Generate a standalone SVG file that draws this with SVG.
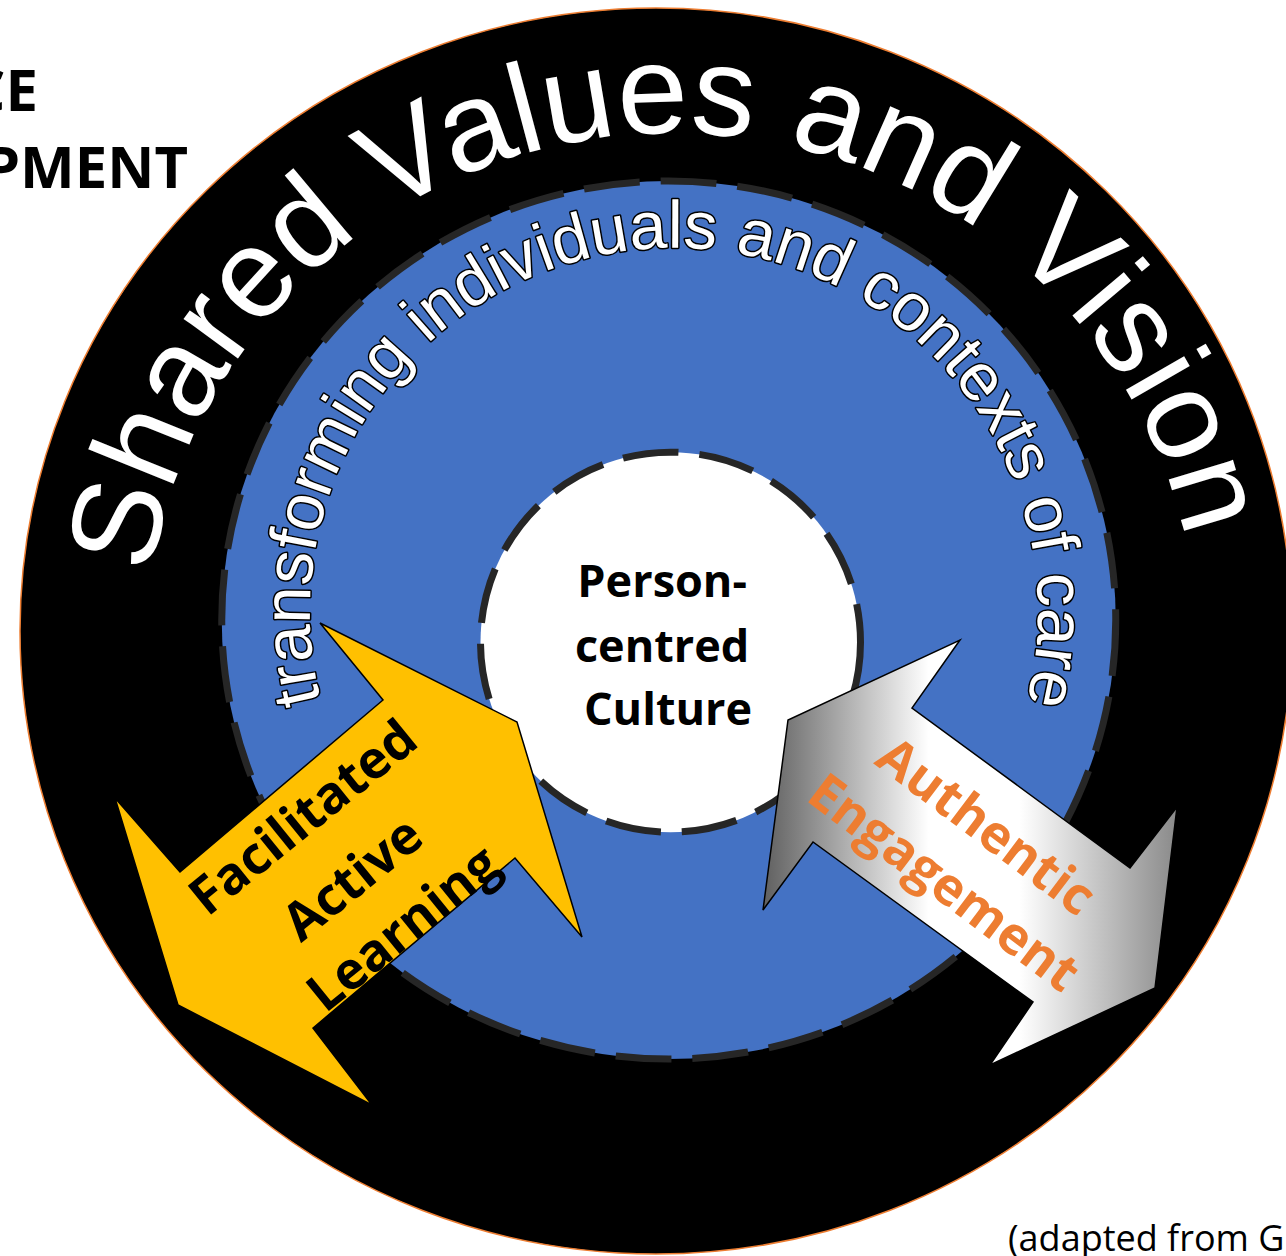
<svg xmlns="http://www.w3.org/2000/svg" width="1286" height="1256" viewBox="0 0 1286 1256">
  <defs>
    <style>
      .arc-big{font-family:"Liberation Sans",Arial,sans-serif;font-size:127px;fill:#ffffff}
      .arc-small{font-family:"Liberation Sans",Arial,sans-serif;font-size:67px;fill:#ffffff;stroke:#000000;stroke-width:3;paint-order:stroke fill;stroke-linejoin:round}
      .bold{font-family:"Open Sans","Noto Sans",sans-serif;font-weight:700}
      .regular{font-family:"Open Sans","Noto Sans",sans-serif;font-weight:400}
      .dashed{stroke:#262626;stroke-width:7;stroke-dasharray:56 21}
      .arrow{stroke:#000000;stroke-width:1.5;stroke-linejoin:miter}
    </style>
    <!-- baselines for the curved ring labels -->
    <path id="arc-outer" d="M154,742.1 A526,519 0 1,1 1190,742.1"/>
    <path id="arc-inner" d="M332,736.5 A364,364 0 1,1 1016,736.5"/>
    <linearGradient id="silver" gradientUnits="userSpaceOnUse" x1="763" y1="0" x2="1177" y2="0">
      <stop offset="0" stop-color="#5f5f5f"/>
      <stop offset="0.4" stop-color="#ffffff"/>
      <stop offset="0.62" stop-color="#ffffff"/>
      <stop offset="1" stop-color="#8a8a8a"/>
    </linearGradient>
  </defs>

  <rect width="1286" height="1256" fill="#ffffff"/>

  <!-- heading fragments at the left edge -->
  <g id="heading">
    <text class="bold" font-size="58" x="38" y="111" text-anchor="end" fill="#000">CE</text>
    <text class="bold" font-size="58" x="188" y="188" text-anchor="end" fill="#000">PMENT</text>
  </g>

  <!-- outer ring: shared values and vision -->
  <g id="ring-values">
    <ellipse cx="656" cy="631" rx="636" ry="623" fill="#000000" stroke="#ED7D31" stroke-width="1.5"/>
    <text class="arc-big"><textPath href="#arc-outer" startOffset="893" text-anchor="middle">Shared Values and Vision</textPath></text>
  </g>

  <!-- middle ring: transforming individuals and contexts of care -->
  <g id="ring-transforming">
    <ellipse class="dashed" cx="668.75" cy="620" rx="447" ry="439" fill="#4472C4"/>
    <text class="arc-small"><textPath href="#arc-inner" startOffset="700" text-anchor="middle">transforming individuals and contexts of care</textPath></text>
  </g>

  <!-- centre: person-centred culture -->
  <g id="core">
    <circle class="dashed" cx="670.5" cy="642.2" r="190" fill="#ffffff"/>
    <text class="bold" font-size="45" text-anchor="middle" fill="#000">
      <tspan x="668" y="597">Person-</tspan>
      <tspan x="668" y="662">centred</tspan>
      <tspan x="668" y="725">Culture</tspan>
    </text>
  </g>

  <!-- double arrows cycling round the rings -->
  <g id="connectors">
    <g id="arrow-learning">
      <polygon class="arrow" fill="#FFC000" points="320,623 517,722 582,937 515,858 313,1028 372,1105 178,1005 115,798 180,872 383,700"/>
      <g transform="translate(352,878) rotate(-39)" class="bold" font-size="52" text-anchor="middle" fill="#000">
        <text x="0" y="-79" dy="0.36em">Facilitated</text>
        <text x="0" y="0" dy="0.36em">Active</text>
        <text x="8" y="76" dy="0.25em">Learning</text>
      </g>
    </g>
    <g id="arrow-engagement">
      <polygon class="arrow" fill="url(#silver)" points="960,640 912,708 1130,868 1177,807 1155,988 990,1065 1033,1002 813,842 763,910 788,720"/>
      <g transform="translate(964,856) rotate(37)" class="bold" font-size="52" text-anchor="middle" fill="#ED7D31">
        <text x="0" y="-38" dy="0.36em">Authentic</text>
        <text x="0" y="38" dy="0.25em">Engagement</text>
      </g>
    </g>
  </g>

  <!-- source note -->
  <g id="source-note">
    <text class="regular" font-size="36" x="1008" y="1251" fill="#000">(adapted from G</text>
  </g>
</svg>
